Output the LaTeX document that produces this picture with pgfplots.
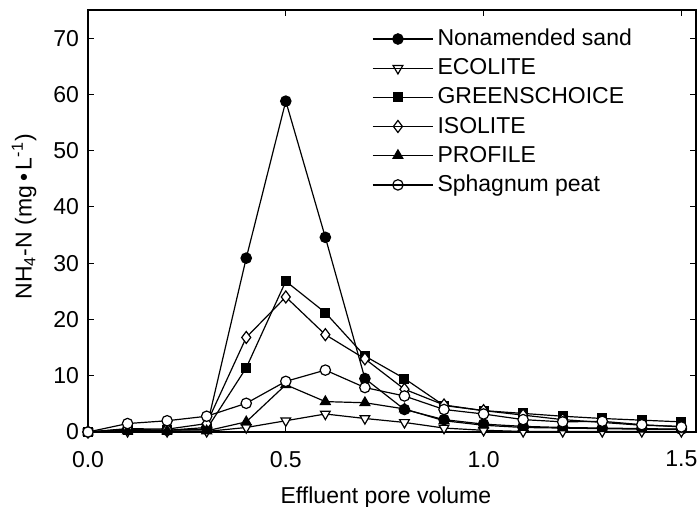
\documentclass[border=0pt]{standalone}
\usepackage{pgfplots}
\pgfplotsset{compat=1.18}
\usepackage{pgfplotstable}
\usepackage{fontspec}
\setmainfont{Liberation Sans}

\pgfplotstableread{
x    sand  eco   green  iso   prof  peat
0.0  0.0   0.0   0.0    0.0   0.0   0.0
0.1  0.5   0.1   0.3    0.6   0.2   1.5
0.2  0.3   0.1   0.3    0.5   0.2   2.0
0.3  0.8   0.1   0.5    1.5   0.2   2.8
0.4  30.9  0.8   11.4   16.8  1.8   5.1
0.5  58.8  2.0   26.8   24.0  8.4   9.0
0.6  34.6  3.2   21.2   17.3  5.4   11.0
0.7  9.5   2.4   13.5   13.0  5.2   7.9
0.8  4.0   1.7   9.5    7.6   4.1   6.4
0.9  2.2   0.7   4.7    4.8   2.0   4.0
1.0  1.4   0.3   3.8    3.8   1.2   3.2
1.1  1.0   0.1   3.3    3.0   0.8   2.2
1.2  0.8   0.1   2.8    2.2   0.7   1.8
1.3  0.7   0.1   2.4    1.7   0.6   1.9
1.4  0.6   0.1   2.1    1.2   0.5   1.3
1.5  0.5   0.1   1.8    1.0   0.5   0.9
}\datatable

\begin{document}
\begin{tikzpicture}
\begin{axis}[
  scale only axis,
  width=304pt, height=211pt,
  xmin=0, xmax=1.537, ymin=0, ymax=75,
  xtick={0,0.5,1,1.5},
  ytick={0,10,...,70},
  tick align=inside,
  major tick length=3pt,
  tick style={black, line width=0.5pt},
  axis line style={line width=0.6pt},
  xticklabel style={/pgf/number format/fixed, /pgf/number format/fixed zerofill, /pgf/number format/precision=1, yshift=-6pt},
  yticklabel style={xshift=-1pt},
  /pgf/number format/assume math mode=true,
  font=\fontsize{11.5}{13.5}\selectfont,
  xlabel={Effluent pore volume},
  ylabel={NH\textsubscript{4}-N (mg\,•\,L\textsuperscript{-1})},
  every axis x label/.style={at={(axis description cs:0.49,-0.155)}, anchor=center},
  every axis y label/.style={at={(axis description cs:-0.105,0.51)}, rotate=90, anchor=center},
  legend style={draw=none, fill=none, at={(axis description cs:0.467,0.965)}, anchor=north west,
    row sep=1.0pt, font=\fontsize{11.5}{13.5}\selectfont, inner sep=0pt},
  legend cell align=left,
  legend image code/.code={\draw[#1, mark repeat=2, mark phase=2] plot coordinates {(0pt,0pt) (12.5pt,0pt) (25pt,0pt)}; \path (0pt,0pt) -- (30pt,0pt);},
  every axis plot/.append style={black, line width=0.6pt},
  clip=false,
]
\coordinate (sw) at (rel axis cs:0,0);
\coordinate (ne) at (rel axis cs:1,1);
\addplot[mark=*, mark size=2.6pt] table[x=x, y=sand] {\datatable};
\addlegendentry{Nonamended sand}
\addplot[mark=triangle*, mark size=2.8pt, mark options={fill=white, rotate=180}] table[x=x, y=eco] {\datatable};
\addlegendentry{ECOLITE}
\addplot[mark=square*, mark size=2.2pt] table[x=x, y=green] {\datatable};
\addlegendentry{GREENSCHOICE}
\addplot[mark=diamond*, mark size=3pt, mark options={fill=white}] table[x=x, y=iso] {\datatable};
\addlegendentry{ISOLITE}
\addplot[mark=triangle*, mark size=2.8pt] table[x=x, y=prof] {\datatable};
\addlegendentry{PROFILE}
\addplot[mark=*, mark size=2.6pt, mark options={fill=white}] table[x=x, y=peat] {\datatable};
\addlegendentry{Sphagnum peat}
\end{axis}
\pgfresetboundingbox
\path ([shift={(-44pt,-37.5pt)}]sw) rectangle ([shift={(2pt,5pt)}]ne);
\end{tikzpicture}
\end{document}
